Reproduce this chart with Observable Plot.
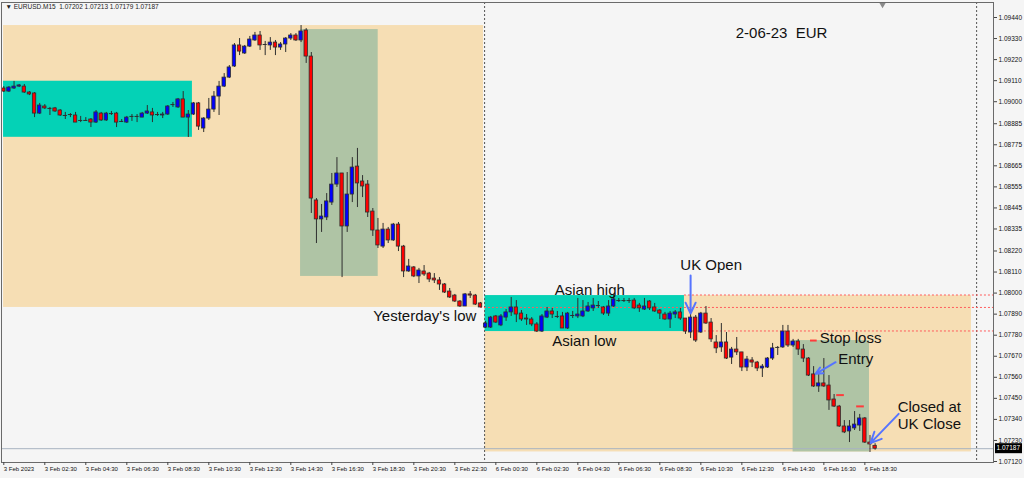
<!DOCTYPE html>
<html><head><meta charset="utf-8">
<script src="https://cdn.jsdelivr.net/npm/d3@7"></script>
<script src="https://cdn.jsdelivr.net/npm/@observablehq/plot@0.6"></script>
<style>
html,body{margin:0;padding:0;background:#f5f5f5;}
#chart{width:1024px;height:478px;overflow:hidden;}
</style></head><body><div id="chart"></div>
<script>
// ---- EURUSD M15, 3 Feb 2023 00:30 (bar 0) .. 6 Feb 2023 19:00 (bar 170) ----
const symbol = "EURUSD.M15";
const open = [1.09069,1.09053,1.09069,1.09079,1.09079,1.09048,1.09043,1.08938,1.08975,1.08965,1.08965,1.08954,1.08928,1.08933,1.08928,1.08902,1.08902,1.08907,1.08891,1.08938,1.08902,1.08938,1.08938,1.08897,1.08891,1.08923,1.08923,1.08917,1.08938,1.08944,1.08933,1.08928,1.08933,1.08985,1.08970,1.09012,1.08917,1.08933,1.08991,1.08860,1.08912,1.08959,1.09027,1.09079,1.09126,1.09184,1.09294,1.09252,1.09288,1.09320,1.09346,1.09299,1.09294,1.09309,1.09283,1.09299,1.09330,1.09346,1.09320,1.09372,1.09236,1.08484,1.08385,1.08395,1.08473,1.08567,1.08625,1.08348,1.08515,1.08661,1.08583,1.08567,1.08426,1.08327,1.08243,1.08332,1.08275,1.08358,1.08243,1.08113,1.08134,1.08087,1.08113,1.08102,1.08076,1.08066,1.08045,1.08008,1.07987,1.07956,1.07930,1.07993,1.07987,1.07946,
1.07820,1.07820,1.07878,1.07831,1.07872,1.07899,1.07925,1.07893,1.07867,1.07862,1.07836,1.07799,1.07872,1.07904,1.07878,1.07878,1.07815,1.07883,1.07878,1.07878,1.07904,1.07920,1.07935,1.07925,1.07893,1.07930,1.07961,1.07961,1.07961,1.07961,1.07935,1.07914,1.07956,1.07925,1.07909,1.07888,1.07862,1.07888,1.07899,1.07867,1.07794,1.07872,1.07794,1.07893,1.07846,1.07742,1.07716,1.07742,1.07663,1.07705,1.07690,1.07611,1.07648,1.07637,1.07606,1.07611,1.07658,1.07716,1.07716,1.07799,1.07726,1.07747,1.07705,1.07658,1.07575,1.07512,1.07528,1.07517,1.07444,1.07407,1.07303,1.07277,1.07293,1.07308,1.07345,1.07219,1.07202];
const high = [1.09079,1.09079,1.09106,1.09090,1.09090,1.09053,1.09048,1.08991,1.08985,1.08970,1.08970,1.08959,1.08944,1.08938,1.08944,1.08923,1.08917,1.08912,1.08954,1.08944,1.08944,1.08949,1.08944,1.08907,1.08923,1.08933,1.08933,1.08944,1.08980,1.08965,1.08944,1.08944,1.08980,1.08996,1.09017,1.09053,1.08954,1.08996,1.08996,1.08917,1.09017,1.09053,1.09106,1.09147,1.09189,1.09304,1.09330,1.09294,1.09341,1.09362,1.09367,1.09315,1.09335,1.09320,1.09309,1.09335,1.09356,1.09356,1.09398,1.09382,1.09257,1.08494,1.08463,1.08520,1.08625,1.08708,1.08625,1.08630,1.08708,1.08756,1.08614,1.08588,1.08442,1.08390,1.08364,1.08343,1.08364,1.08369,1.08249,1.08176,1.08139,1.08129,1.08144,1.08108,1.08102,1.08081,1.08050,1.08024,1.07993,1.07961,1.07998,1.08008,1.07993,1.07951,
1.07852,1.07878,1.07883,1.07888,1.07914,1.07977,1.07961,1.07909,1.07888,1.07872,1.07846,1.07888,1.07925,1.07920,1.07904,1.07899,1.07899,1.07904,1.07972,1.07961,1.07951,1.07972,1.07956,1.07930,1.07961,1.07993,1.07972,1.07972,1.07972,1.07972,1.07946,1.07972,1.07961,1.07946,1.07914,1.07899,1.07904,1.07909,1.07920,1.07867,1.07888,1.07883,1.07899,1.07930,1.07867,1.07778,1.07841,1.07794,1.07716,1.07768,1.07690,1.07669,1.07663,1.07643,1.07627,1.07663,1.07737,1.07721,1.07831,1.07831,1.07758,1.07758,1.07731,1.07663,1.07616,1.07585,1.07658,1.07569,1.07470,1.07413,1.07334,1.07334,1.07381,1.07366,1.07350,1.07256,1.07213];
const low = [1.09048,1.09048,1.09064,1.09074,1.09043,1.09032,1.08917,1.08933,1.08959,1.08928,1.08944,1.08923,1.08907,1.08917,1.08891,1.08891,1.08897,1.08865,1.08886,1.08897,1.08897,1.08928,1.08865,1.08891,1.08886,1.08897,1.08891,1.08917,1.08933,1.08891,1.08923,1.08912,1.08928,1.08970,1.08965,1.08917,1.08813,1.08928,1.08850,1.08839,1.08902,1.08944,1.08928,1.09074,1.09121,1.09179,1.09241,1.09247,1.09283,1.09315,1.09268,1.09241,1.09268,1.09241,1.09268,1.09257,1.09320,1.09315,1.09309,1.09200,1.08416,1.08259,1.08317,1.08379,1.08458,1.08552,1.08081,1.08317,1.08473,1.08447,1.08499,1.08395,1.08296,1.08233,1.08233,1.08259,1.08270,1.08217,1.08081,1.08108,1.08081,1.08050,1.08087,1.08055,1.08050,1.08014,1.07998,1.07972,1.07951,1.07925,1.07930,1.07972,1.07935,1.07925,
1.07815,1.07815,1.07841,1.07825,1.07852,1.07878,1.07846,1.07852,1.07831,1.07825,1.07794,1.07794,1.07867,1.07867,1.07867,1.07815,1.07810,1.07867,1.07867,1.07872,1.07899,1.07904,1.07920,1.07883,1.07878,1.07925,1.07951,1.07951,1.07946,1.07914,1.07899,1.07909,1.07909,1.07899,1.07862,1.07857,1.07815,1.07867,1.07857,1.07784,1.07763,1.07742,1.07789,1.07836,1.07742,1.07684,1.07690,1.07653,1.07627,1.07674,1.07590,1.07590,1.07611,1.07590,1.07559,1.07606,1.07648,1.07674,1.07711,1.07716,1.07716,1.07674,1.07637,1.07564,1.07507,1.07481,1.07507,1.07387,1.07402,1.07298,1.07266,1.07219,1.07282,1.07277,1.07214,1.07167,1.07179];
const close = [1.09053,1.09074,1.09079,1.09085,1.09048,1.09038,1.08938,1.08980,1.08965,1.08965,1.08949,1.08928,1.08928,1.08933,1.08891,1.08902,1.08902,1.08891,1.08944,1.08902,1.08938,1.08938,1.08891,1.08897,1.08917,1.08923,1.08923,1.08938,1.08949,1.08928,1.08933,1.08933,1.08975,1.08985,1.09012,1.08917,1.08933,1.08991,1.08870,1.08912,1.08959,1.09027,1.09079,1.09126,1.09179,1.09294,1.09262,1.09288,1.09325,1.09346,1.09294,1.09299,1.09309,1.09283,1.09299,1.09330,1.09346,1.09320,1.09367,1.09236,1.08494,1.08385,1.08400,1.08479,1.08567,1.08625,1.08348,1.08515,1.08656,1.08573,1.08557,1.08421,1.08327,1.08249,1.08332,1.08275,1.08358,1.08243,1.08113,1.08139,1.08087,1.08118,1.08097,1.08071,1.08066,1.08045,1.08003,1.07977,1.07956,1.07930,1.07993,1.07987,1.07940,1.07925,
1.07841,1.07872,1.07846,1.07878,1.07899,1.07925,1.07888,1.07862,1.07862,1.07836,1.07799,1.07878,1.07904,1.07888,1.07878,1.07815,1.07893,1.07883,1.07888,1.07904,1.07930,1.07935,1.07935,1.07893,1.07930,1.07967,1.07961,1.07961,1.07961,1.07920,1.07920,1.07930,1.07920,1.07904,1.07893,1.07862,1.07893,1.07899,1.07867,1.07799,1.07872,1.07752,1.07893,1.07841,1.07758,1.07711,1.07742,1.07658,1.07705,1.07690,1.07611,1.07653,1.07637,1.07606,1.07616,1.07658,1.07711,1.07716,1.07799,1.07726,1.07747,1.07705,1.07658,1.07569,1.07512,1.07528,1.07512,1.07439,1.07407,1.07303,1.07272,1.07303,1.07313,1.07345,1.07219,1.07209,1.07187];

// price axis labels and time axis labels (bar index of each label)
const yTicks = [1.09440,1.09330,1.09220,1.09110,1.09000,1.08885,1.08775,1.08665,1.08555,1.08445,1.08335,1.08220,1.08110,1.08000,1.07890,1.07780,1.07670,1.07560,1.07450,1.07340,1.07230,1.07120];
const xTickBars = [0,8,16,24,32,40,48,56,64,72,80,88,96,104,112,120,128,136,144,152,160,168];
const xTickLabels = ["3 Feb 2023","3 Feb 02:30","3 Feb 04:30","3 Feb 06:30","3 Feb 08:30","3 Feb 10:30","3 Feb 12:30","3 Feb 14:30","3 Feb 16:30","3 Feb 18:30","3 Feb 20:30","3 Feb 22:30","6 Feb 00:30","6 Feb 02:30","6 Feb 04:30","6 Feb 06:30","6 Feb 08:30","6 Feb 10:30","6 Feb 12:30","6 Feb 14:30","6 Feb 16:30","6 Feb 18:30"];

// day separators (bar index of 6 Feb 00:00 and 7 Feb 00:00)
const daySeparators = [94, 190];

// session rectangles: bar-index start/end, price high/low, kind
const boxStart = [-0.05, -0.05, 57.9, 93.9, 93.9, 154.0];
const boxEnd   = [93.6, 36.8, 73.05, 188.8, 132.8, 168.9];
const boxHigh  = [1.09398, 1.09107, 1.09377, 1.07987, 1.07987, 1.07752];
const boxLow   = [1.07925, 1.08814, 1.08087, 1.07170, 1.07799, 1.07170];
const boxKind  = ["day", "asia", "london", "day", "asia", "london"];

// horizontal dotted levels: Asian high, yesterday's low, Asian low
const levelPrice = [1.07990, 1.07925, 1.07802];
const levelFrom  = [132.8, 93.0, 132.8];

// short red dashes (stop / targets)
const dashPrice = [1.07752, 1.07467, 1.07408];
const dashFrom  = [157.4, 162.5, 166.4];
const dashTo    = [158.7, 164.0, 167.9];

// arrows: from (bar, price) to (bar, price)
const arrowX1 = [134.0, 162.3, 174.6];
const arrowY1 = [1.08092, 1.07639, 1.07369];
const arrowX2 = [134.0, 158.4, 169.1];
const arrowY2 = [1.07893, 1.07578, 1.07216];

// text annotations
const noteText  = ["2-06-23\u00a0\u00a0EUR", "Yesterday's low", "Asian high", "Asian low", "UK Open", "Stop loss", "Entry", "Closed at", "UK Close"];
const noteBar   = [142.8, 92.2, 107.5, 107.0, 132.0, 159.2, 162.8, 174.4, 174.4];
const notePrice = [1.09356, 1.07878, 1.08014, 1.07749, 1.08144, 1.07762, 1.07653, 1.07404, 1.07313];
const noteAnchor= ["start", "end", "start", "start", "start", "start", "start", "start", "start"];

const shiftBar = 171.45;

// ---------------- build ----------------
const W = 1024, H = 478;
const mL = 1, mR = 31, mT = 2, mB = 16;
const xDomain = [-0.45, 193.1];
const yDomain = [1.071148, 1.095184];

const candles = open.map((o, i) => ({i, open: o, high: high[i], low: low[i], close: close[i]}));
const bodies = candles.filter(d => d.open !== d.close);
const dojis = candles.filter(d => d.open === d.close);
const boxes = boxStart.map((s, k) => ({x1: s, x2: boxEnd[k], hi: boxHigh[k], lo: boxLow[k], kind: boxKind[k]}));
const levels = levelPrice.map((p, k) => ({p, from: levelFrom[k]}));
const dashes = dashPrice.map((p, k) => ({p, a: dashFrom[k], b: dashTo[k]}));
const arrows = arrowX1.map((x, k) => ({x1: x, y1: arrowY1[k], x2: arrowX2[k], y2: arrowY2[k]}));
const notes = noteText.map((t, k) => ({t, x: noteBar[k], y: notePrice[k], a: noteAnchor[k]}));
const last = candles[candles.length - 1];
const header = "\u25BC " + symbol + "  " + [last.open, last.high, last.low, last.close].map(v => v.toFixed(5)).join(" ");
const labelOf = new Map(xTickBars.map((b, k) => [b, xTickLabels[k]]));

const boxColor = {day: "#f6deb4", asia: "#04d2b6", london: "#afc4a5"};
const font = "'Liberation Sans', Arial, sans-serif";

const chart = Plot.plot({
  width: W, height: H,
  marginLeft: mL, marginRight: mR, marginTop: mT, marginBottom: mB,
  style: {background: "#f5f5f5", fontFamily: font, color: "#111"},
  x: {domain: xDomain, axis: null},
  y: {domain: yDomain, axis: null},
  marks: [
    Plot.rect(boxes, {x1: "x1", x2: "x2", y1: "lo", y2: "hi", fill: d => boxColor[d.kind], clip: true}),
    Plot.ruleX(daySeparators, {x: d => d, dx: -1, stroke: "#555", strokeWidth: 1, strokeDasharray: "2,2"}),
    Plot.ruleY(levels, {y: "p", x1: "from", x2: xDomain[1], stroke: "#ff5c5c", strokeWidth: 1, strokeDasharray: "2,2"}),
    Plot.ruleY([last.close], {stroke: "#a9b3c1", strokeWidth: 1}),
    Plot.ruleX(candles, {x: "i", y1: "low", y2: "high", stroke: "#2e2e2e", strokeWidth: 1, clip: true}),
    Plot.rect(bodies, {x1: d => d.i - 0.33, x2: d => d.i + 0.33, y1: "open", y2: "close",
      fill: d => d.close > d.open ? "#0000ff" : "#ff0000", stroke: "#2e2e2e", strokeWidth: 0.8, clip: true}),
    Plot.ruleY(dojis, {y: "close", x1: d => d.i - 0.4, x2: d => d.i + 0.4, stroke: "#2e2e2e", strokeWidth: 1}),
    Plot.ruleY(dashes, {y: "p", x1: "a", x2: "b", stroke: "#ff3b3b", strokeWidth: 2}),
    Plot.arrow(arrows, {x1: "x1", y1: "y1", x2: "x2", y2: "y2", stroke: "#5674ff", strokeWidth: 2, headLength: 9, headAngle: 50}),
    Plot.text(notes.filter(d => d.a === "start"), {x: "x", y: "y", text: "t", textAnchor: "start", fontSize: 15, fill: "#111", fontFamily: font}),
    Plot.text(notes.filter(d => d.a === "end"), {x: "x", y: "y", text: "t", textAnchor: "end", fontSize: 15, fill: "#111", fontFamily: font}),
    Plot.text([header], {frameAnchor: "top-left", dx: 4, dy: 2, lineAnchor: "top", textAnchor: "start", fontSize: 6.5, fill: "#222"}),
    Plot.dot([shiftBar], {x: d => d, frameAnchor: "top", dy: 2, symbol: "triangle", rotate: 180, r: 2.4, fill: "#8a8a8a"}),
    Plot.frame({stroke: "#6a6a6a", strokeWidth: 1}),
    Plot.axisY({anchor: "right", ticks: yTicks, tickFormat: d => d.toFixed(5), tickSize: 3, tickPadding: 2, fontSize: 6.5, label: null, stroke: "#444"}),
    Plot.axisX({anchor: "bottom", ticks: xTickBars, tickFormat: d => labelOf.get(d), tickSize: 3, tickPadding: 1, textAnchor: "start", dx: 0, fontSize: 6, label: null, stroke: "#444"})
  ]
});

// current price label in the price-axis margin
const yScale = chart.scale("y");
const yy = yScale.apply(last.close);
const svg = d3.select(chart);
const gLab = svg.append("g");
gLab.append("rect").attr("x", W - mR + 2).attr("y", yy - 5).attr("width", 27).attr("height", 10).attr("fill", "#000");
gLab.append("text").attr("x", W - mR + 3.5).attr("y", yy).attr("dy", "0.35em").attr("fill", "#fff")
  .attr("text-anchor", "start").attr("font-size", 6.5).attr("font-family", font).text(last.close.toFixed(5));

document.getElementById("chart").appendChild(chart);
</script>
</body></html>
